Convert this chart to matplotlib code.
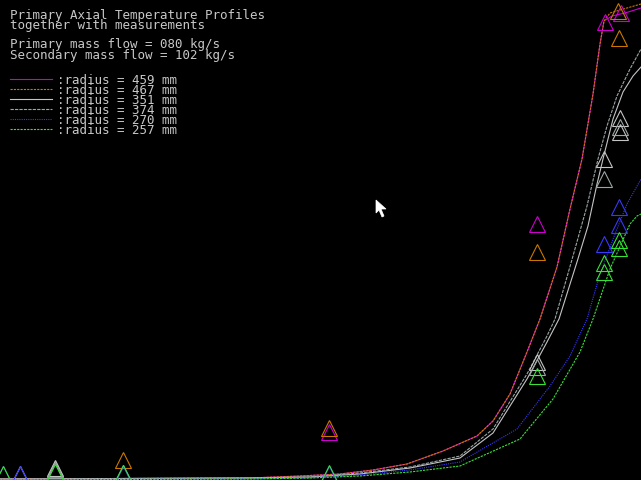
import matplotlib
matplotlib.use('Agg')
import matplotlib.pyplot as plt
from matplotlib.patches import Polygon

# axial position (screen units) and temperature of each computed profile
radii = ['459', '467', '351', '374', '270', '257']
colors = ['#cc00cc', '#c87800', '#c4c4c4', '#9aa6a6', '#3838ff', '#38e038']
styles = ['-', (0, (2, 1)), '-', (0, (3, 1)), (0, (1, 1)), (0, (2, 1))]

z_459 = [0, 250, 300, 340, 373, 407, 443, 477, 493, 510, 527, 540, 557, 570, 582, 593, 600, 604, 612, 625, 641]
T_459 = [1, 2, 4, 6, 10, 16, 29, 44, 59, 86, 128, 161, 213, 271, 321, 386, 436, 459, 464, 467, 472]
z_467 = [0, 250, 300, 340, 373, 407, 443, 477, 493, 510, 527, 540, 557, 570, 582, 593, 600, 604, 610, 620, 641]
T_467 = [1, 2, 4, 6, 10, 16, 29, 44, 59, 86, 128, 161, 213, 271, 321, 386, 436, 459, 467, 470, 476]
z_351 = [0, 250, 310, 360, 410, 460, 493, 527, 547, 559, 577, 588, 597, 603, 613, 623, 633, 641]
T_351 = [1, 2, 3, 6, 12, 22, 47, 101, 138, 161, 218, 254, 296, 321, 361, 388, 404, 413]
z_374 = [0, 250, 310, 360, 410, 460, 493, 527, 547, 555, 573, 587, 598, 607, 617, 630, 641]
T_374 = [1, 2, 3, 7, 13, 24, 51, 106, 144, 161, 224, 274, 321, 354, 384, 411, 431]
z_270 = [0, 250, 310, 360, 410, 460, 517, 550, 570, 587, 600, 615, 627, 641]
T_270 = [0, 1, 2, 5, 10, 18, 51, 94, 124, 161, 206, 246, 276, 301]
z_257 = [0, 250, 310, 360, 410, 460, 520, 553, 580, 593, 610, 622, 630, 637, 641]
T_257 = [0, 1, 2, 4, 8, 14, 41, 81, 128, 161, 211, 238, 256, 264, 266]

# measurements
mz_459 = [55, 329, 537, 605, 621]
mT_459 = [9, 48, 256, 458, 467]
mz_467 = [55, 123, 329, 537, 619, 618]
mT_467 = [11, 20, 52, 228, 442, 469]
mz_351 = [20, 55, 537, 604, 620, 620]
mT_351 = [6, 12, 118, 321, 362, 348]
mz_374 = [55, 123, 537, 604, 620]
mT_374 = [10, 7, 113, 301, 353]
mz_270 = [3, 20, 123, 329, 604, 619, 619]
mT_270 = [6, 6, 6, 6, 236, 273, 255]
mz_257 = [3, 55, 123, 329, 537, 604, 604, 619, 619]
mT_257 = [6, 8, 7, 7, 104, 217, 208, 240, 232]

profiles = [(z_459, T_459), (z_467, T_467), (z_351, T_351),
            (z_374, T_374), (z_270, T_270), (z_257, T_257)]
measured = [(mz_459, mT_459), (mz_467, mT_467), (mz_351, mT_351),
            (mz_374, mT_374), (mz_270, mT_270), (mz_257, mT_257)]

title = ['Primary Axial Temperature Profiles', 'together with measurements']
flows = ['Primary mass flow = 080 kg/s', 'Secondary mass flow = 102 kg/s']

fig = plt.figure(figsize=(6.41, 4.81), dpi=100, facecolor='black')
ax = fig.add_axes([0, 0, 1, 1])
ax.set_facecolor('black')
ax.set_xlim(0, 641)
ax.set_ylim(0, 481)
ax.axis('off')

for (z, T), c, ls in zip(profiles, colors, styles):
    ax.plot(z, T, color=c, lw=0.8, linestyle=ls)

for (z, T), c in zip(measured, colors):
    ax.plot(z, T, linestyle='none', marker='^', markersize=11,
            markerfacecolor='none', markeredgecolor=c, markeredgewidth=0.8)

W, H = 641.0, 481.0
txt = dict(color='#c8c8c8', fontsize=9, family='DejaVu Sans Mono',
           va='center', ha='left', transform=ax.transAxes)

for i, s in enumerate(title):
    ax.text(10 / W, 1 - (15 + 10 * i) / H, s, **txt)
for i, s in enumerate(flows):
    ax.text(10 / W, 1 - (45 + 10 * i) / H, s, **txt)

# legend
for i, (r, c, ls) in enumerate(zip(radii, colors, styles)):
    y = 1 - (80 + 10 * i) / H
    ax.plot([10 / W, 52 / W], [y, y], color=c, lw=0.8, linestyle=ls,
            transform=ax.transAxes)
    ax.text(57 / W, y, ':radius = ' + r + ' mm', **txt)

# mouse pointer
cursor = [(376, 201), (376, 214), (379, 211), (382, 218), (384, 217), (381, 210), (386, 210)]
fig.patches.append(Polygon([(x / W, 1 - y / H) for x, y in cursor], closed=True,
                           facecolor='white', edgecolor='white', lw=0.5,
                           transform=fig.transFigure))

fig.savefig('out.png', dpi=100, facecolor='black')
